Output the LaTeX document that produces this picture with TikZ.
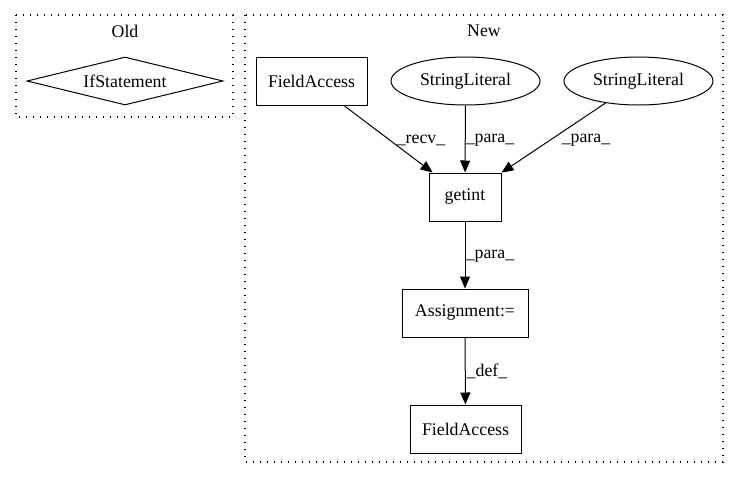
\documentclass[tikz,border=0pt]{standalone}
\usepackage{fontspec}
\setmainfont{Liberation Serif}
\usetikzlibrary{shapes.geometric,arrows.meta}
\begin{document}
\begin{tikzpicture}[x=1pt,y=-1pt,
  every node/.style={font=\fontsize{17.8}{20}\selectfont},
  box/.style={draw,line width=1pt,rectangle,inner sep=0pt},
  oval/.style={draw,line width=1pt,ellipse,inner sep=0pt,minimum width=149pt,minimum height=48pt},
  cluster/.style={draw,line width=1.2pt,dash pattern=on 1.2pt off 5.8pt},
  edge/.style={line width=1pt,-{Triangle[length=12pt,width=10pt]}},
  elabel/.style={inner sep=0pt}
]
\useasboundingbox (0,0) rectangle (740,480);
% clusters
\draw[cluster] (16,15) rectangle (233,117);
\node (oldlbl) at (125,31) {Old};
\draw[cluster] (245,15) rectangle (723,462);
\node (newlbl) at (484,31) {New};
% nodes
\node[draw,line width=1pt,diamond,shape aspect=4,inner sep=0pt,minimum width=196pt,minimum height=48pt] (ifs) at (125,81) {IfStatement};
\node[box,minimum width=111pt,minimum height=48pt] (fa1) at (311.5,81) {FieldAccess};
\node[oval] (sl1) at (465.5,81) {StringLiteral};
\node[oval] (sl2) at (638.5,81) {StringLiteral};
\node[box,minimum width=72pt,minimum height=48pt] (getint) at (465,197) {getint};
\node[box,minimum width=126pt,minimum height=48pt] (assign) at (465,313) {Assignment:=};
\node[box,minimum width=111pt,minimum height=48pt] (fa2) at (465.5,429) {FieldAccess};
% edges
\draw[edge] (fa1) -- (getint);
\draw[edge] (sl1) -- (getint);
\draw[edge] (sl2) -- (getint);
\draw[edge] (getint) -- (assign);
\draw[edge] (assign) -- (fa2);
% edge labels
\node[elabel] (l1) at (421,140) {\_recv\_};
\node[elabel] (l2) at (490,140) {\_para\_};
\node[elabel] (l3) at (586,140) {\_para\_};
\node[elabel] (l4) at (490,256) {\_para\_};
\node[elabel] (l5) at (487,371) {\_def\_};
\end{tikzpicture}
\end{document}
